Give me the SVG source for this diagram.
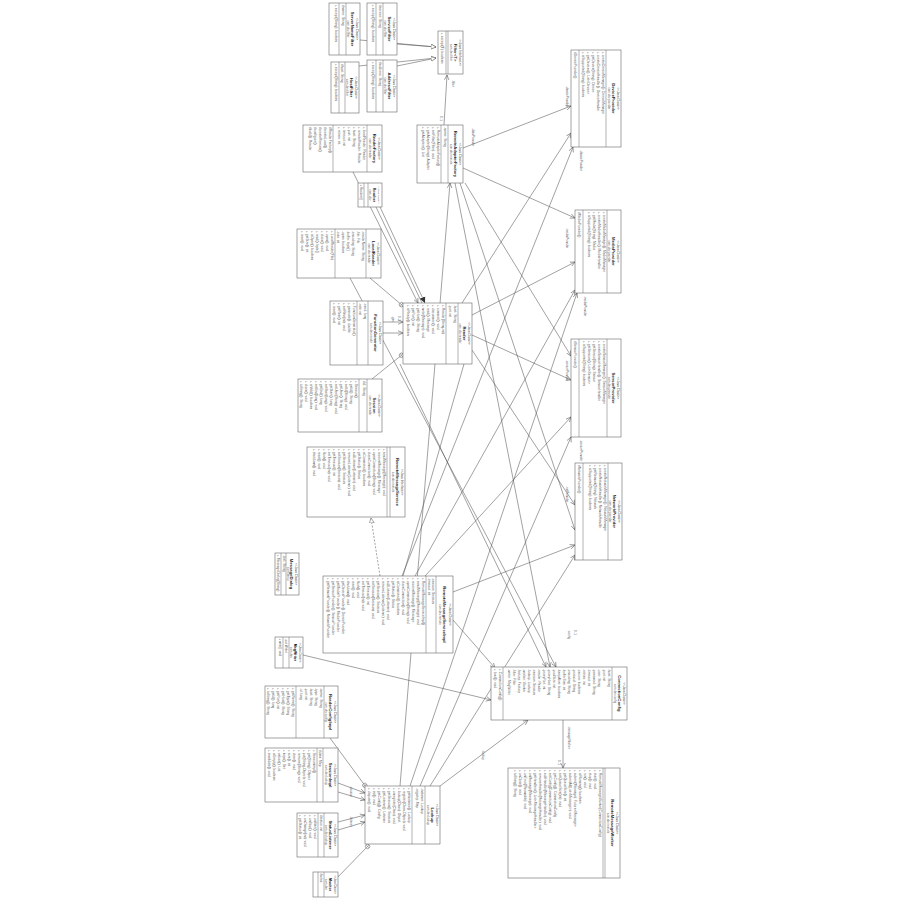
<svg xmlns="http://www.w3.org/2000/svg" width="900" height="900" viewBox="0 0 900 900">
<style>
text{font-family:"Liberation Sans",Arial,sans-serif;fill:#444}
.b{fill:#fff;stroke:#666;stroke-width:.6}
.d{stroke:#666;stroke-width:.5}
.st{font-size:3.1px;text-anchor:middle}
.nm{font-size:4.2px;font-weight:bold;text-anchor:middle;fill:#222}
.pk{font-size:2.9px;text-anchor:middle;fill:#666}
.mb{font-size:3.3px;fill:#555}
.c line,.c polyline{stroke:#555;stroke-width:.55;fill:none}
.lb{font-size:3px;fill:#555}
</style>
<defs>
<marker id="tri" markerWidth="6" markerHeight="6" refX="5" refY="3" orient="auto" markerUnits="userSpaceOnUse"><path d="M0,0.6 L5,3 L0,5.4 Z" fill="#fff" stroke="#555" stroke-width=".5"/></marker>
<marker id="arr" markerWidth="6" markerHeight="6" refX="5" refY="3" orient="auto" markerUnits="userSpaceOnUse"><path d="M0,0.7 L5,3 L0,5.3" fill="none" stroke="#555" stroke-width=".55"/></marker>
<marker id="fil" markerWidth="7" markerHeight="7" refX="6" refY="3.5" orient="auto" markerUnits="userSpaceOnUse"><path d="M0,0.5 L6,3.5 L0,6.5 Z" fill="#333"/></marker>
<marker id="nst" markerWidth="6" markerHeight="6" refX="5" refY="3" orient="auto" markerUnits="userSpaceOnUse"><circle cx="3" cy="3" r="2.2" fill="#fff" stroke="#555" stroke-width=".5"/><path d="M3,1 V5 M1,3 H5" stroke="#555" stroke-width=".4"/></marker>
</defs>

<g class="c" id="connectors">
<line x1="360" y1="40" x2="436" y2="47" marker-end="url(#tri)"/>
<line x1="397" y1="44" x2="436" y2="47" marker-end="url(#tri)"/>
<line x1="359" y1="66" x2="436" y2="58" marker-end="url(#tri)"/>
<line x1="397" y1="66" x2="436" y2="58" marker-end="url(#tri)"/>
<line x1="444" y1="125" x2="447" y2="75" marker-end="url(#arr)"/>
<line x1="463" y1="148" x2="571" y2="106" marker-end="url(#arr)"/>
<line x1="463" y1="168" x2="575" y2="218" marker-end="url(#arr)"/>
<line x1="465" y1="183" x2="571" y2="356" marker-end="url(#arr)"/>
<line x1="460" y1="183" x2="575" y2="530" marker-end="url(#arr)"/>
<line x1="455" y1="183" x2="550" y2="667" marker-end="url(#arr)"/>
<line x1="462" y1="303" x2="571" y2="133" marker-end="url(#arr)"/>
<line x1="472" y1="315" x2="575" y2="262" marker-end="url(#arr)"/>
<line x1="472" y1="335" x2="571" y2="380" marker-end="url(#arr)"/>
<line x1="472" y1="350" x2="575" y2="505" marker-end="url(#arr)"/>
<line x1="402" y1="576" x2="573" y2="147" marker-end="url(#arr)"/>
<line x1="415" y1="576" x2="575" y2="290" marker-end="url(#arr)"/>
<line x1="425" y1="576" x2="571" y2="417" marker-end="url(#arr)"/>
<line x1="453" y1="592" x2="575" y2="545" marker-end="url(#arr)"/>
<line x1="400" y1="786" x2="450" y2="183" marker-end="url(#arr)"/>
<line x1="410" y1="786" x2="577" y2="293" marker-end="url(#arr)"/>
<line x1="420" y1="786" x2="571" y2="437" marker-end="url(#arr)"/>
<line x1="430" y1="786" x2="575" y2="555" marker-end="url(#arr)"/>
<line x1="440" y1="786" x2="528" y2="720" marker-end="url(#arr)"/>
<line x1="400" y1="364" x2="546" y2="667" marker-end="url(#arr)"/>
<line x1="350" y1="278" x2="556" y2="667" marker-end="url(#arr)"/>
<line x1="464" y1="364" x2="403" y2="576"/>
<line x1="453" y1="620" x2="495" y2="668" marker-end="url(#arr)"/>
<line x1="303" y1="655" x2="491" y2="700" marker-end="url(#arr)"/>
<line x1="563" y1="720" x2="563" y2="768" marker-end="url(#arr)"/>
<line x1="380" y1="576" x2="371" y2="518" stroke-dasharray="2,1.5" marker-end="url(#tri)"/>
<line x1="353" y1="172" x2="418" y2="303" marker-end="url(#arr)"/>
<line x1="376" y1="207" x2="422" y2="303" stroke-width="1"/>
<line x1="380" y1="207" x2="425" y2="303" marker-end="url(#fil)"/>
<line x1="370" y1="278" x2="403" y2="306" marker-end="url(#nst)"/>
<line x1="383" y1="322" x2="403" y2="322" marker-end="url(#arr)"/>
<line x1="383" y1="333" x2="403" y2="333" marker-end="url(#arr)"/>
<line x1="372" y1="379" x2="403" y2="354" marker-end="url(#nst)"/>
<line x1="330" y1="738" x2="366" y2="787" marker-end="url(#nst)"/>
<line x1="338" y1="783" x2="365" y2="793" marker-end="url(#arr)"/>
<line x1="338" y1="792" x2="365" y2="800" marker-end="url(#arr)"/>
<line x1="338" y1="822" x2="365" y2="815" marker-end="url(#arr)"/>
<line x1="338" y1="830" x2="365" y2="822" marker-end="url(#arr)"/>
<line x1="335" y1="880" x2="369" y2="845" marker-end="url(#nst)"/>
</g>

<g id="labels">
<text class="lb" transform="translate(452,80) rotate(90)">-filter</text>
<text class="lb" transform="translate(440,116) rotate(90)">0..1</text>
<text class="lb" transform="translate(472,128) rotate(90)">-dataProvider</text>
<text class="lb" transform="translate(566,86) rotate(90)">-deviceProvider</text>
<text class="lb" transform="translate(580,150) rotate(90)">-deviceProvider</text>
<text class="lb" transform="translate(566,228) rotate(90)">-mediaProvider</text>
<text class="lb" transform="translate(584,296) rotate(90)">-mediaProvider</text>
<text class="lb" transform="translate(566,360) rotate(90)">-sensorProvider</text>
<text class="lb" transform="translate(580,440) rotate(90)">-sensorProvider</text>
<text class="lb" transform="translate(566,486) rotate(90)">-netProvider</text>
<text class="lb" transform="translate(580,530) rotate(90)">-netProvider</text>
<text class="lb" transform="translate(568,630) rotate(90)">-config</text>
<text class="lb" transform="translate(574,630) rotate(90)">0..1</text>
<text class="lb" transform="translate(568,726) rotate(90)">-messageWorker</text>
<text class="lb" transform="translate(558,760) rotate(90)">0..1</text>
<text class="lb" transform="translate(392,316) rotate(90)">-gen</text>
<text class="lb" transform="translate(398,316) rotate(90)">0..1</text>
<text class="lb" transform="translate(350,786) rotate(90)">-session</text>
<text class="lb" transform="translate(350,816) rotate(90)">-listener</text>
<text class="lb" transform="translate(482,750) rotate(90)">-lookup</text>
</g>

<g id="ServerNameFilter" transform="translate(360,3) rotate(90)"><rect class="b" width="52" height="31"/><line class="d" x1="0" y1="14" x2="52" y2="14"/><line class="d" x1="0" y1="21" x2="52" y2="21"/><text class="st" x="26" y="4.2">&lt;&lt;Java Class&gt;&gt;</text><text class="nm" x="26" y="9.2">ServerNameFilter</text><text class="pk" x="26" y="12.8">com.dev.filter</text><text class="mb" x="2" y="18.3">#name: String</text><text class="mb" x="2" y="25.5">+ accept(String): boolean</text></g>
<g id="ServiceNameFilter" transform="translate(397,3) rotate(90)"><rect class="b" width="52" height="30"/><line class="d" x1="0" y1="14" x2="52" y2="14"/><line class="d" x1="0" y1="21" x2="52" y2="21"/><text class="st" x="26" y="4.2">&lt;&lt;Java Class&gt;&gt;</text><text class="nm" x="26" y="9.2">ServiceFilter</text><text class="pk" x="26" y="12.8">com.dev.filter</text><text class="mb" x="2" y="18.3">#service: String</text><text class="mb" x="2" y="25.5">+ accept(String): boolean</text></g>
<g id="HostNameFilter" transform="translate(359,62) rotate(90)"><rect class="b" width="51" height="28"/><line class="d" x1="0" y1="14" x2="51" y2="14"/><line class="d" x1="0" y1="20" x2="51" y2="20"/><text class="st" x="25.5" y="4.2">&lt;&lt;Java Class&gt;&gt;</text><text class="nm" x="25.5" y="9.2">HostFilter</text><text class="pk" x="25.5" y="12.8">com.dev.filter</text><text class="mb" x="2" y="18">#host: String</text><text class="mb" x="2" y="24.5">+ accept(String): boolean</text></g>
<g id="AddressFilter" transform="translate(397,60) rotate(90)"><rect class="b" width="52" height="30"/><line class="d" x1="0" y1="14" x2="52" y2="14"/><line class="d" x1="0" y1="21" x2="52" y2="21"/><text class="st" x="26" y="4.2">&lt;&lt;Java Class&gt;&gt;</text><text class="nm" x="26" y="9.2">AddressFilter</text><text class="pk" x="26" y="12.8">com.dev.filter</text><text class="mb" x="2" y="18.3">#address: String</text><text class="mb" x="2" y="25.5">+ accept(String): boolean</text></g>
<g id="Filter" transform="translate(463,31) rotate(90)"><rect class="b" width="43" height="25"/><line class="d" x1="0" y1="15" x2="43" y2="15"/><line class="d" x1="0" y1="17" x2="43" y2="17"/><text class="st" x="21.5" y="4.2">&lt;&lt;Java Interface&gt;&gt;</text><text class="nm" x="21.5" y="9.2">Filter&lt;T&gt;</text><text class="pk" x="21.5" y="12.8">com.dev.filter</text><text class="mb" x="2" y="21.8">+ accept(T): boolean</text></g>
<g id="RemoteAdapterFactory" transform="translate(463,125) rotate(90)"><rect class="b" width="58" height="46"/><line class="d" x1="0" y1="15" x2="58" y2="15"/><line class="d" x1="0" y1="22" x2="58" y2="22"/><text class="st" x="29" y="4.2">&lt;&lt;Java Class&gt;&gt;</text><text class="nm" x="29" y="9.2">RemoteAdapterFactory</text><text class="pk" x="29" y="12.8">com.dev.remote</text><text class="mb" x="2" y="19.5">-name: String</text><text class="mb" x="2" y="26.3">+ RemoteAdapterFactory()</text><text class="mb" x="2" y="31.3">+ setFilter(Filter): void</text><text class="mb" x="2" y="36.3">+ getAdapter(String): Adapter</text><text class="mb" x="2" y="41.3">+ getAdapters(): List</text></g>
<g id="DeviceProvider" transform="translate(621,50) rotate(90)"><rect class="b" width="97" height="50"/><line class="d" x1="0" y1="15" x2="97" y2="15"/><line class="d" x1="0" y1="42" x2="97" y2="42"/><text class="st" x="48.5" y="4.2">&lt;&lt;Java Class&gt;&gt;</text><text class="nm" x="48.5" y="9.2">DeviceProvider</text><text class="pk" x="48.5" y="12.8">com.dev.provider</text><text class="mb" x="2" y="19.3">+ createDeviceManager(): DeviceManager</text><text class="mb" x="2" y="24.3">+ createDeviceHandler(): DeviceHandler</text><text class="mb" x="2" y="29.3">+ getDevice(String): Device</text><text class="mb" x="2" y="34.3">+ getDevices(): List&lt;Device&gt;</text><text class="mb" x="2" y="39.3">+ isSupported(String): boolean</text><text class="mb" x="2" y="47">#DeviceProvider()</text></g>
<g id="ReaderFactory" transform="translate(382,125) rotate(90)"><rect class="b" width="47" height="79"/><line class="d" x1="0" y1="15" x2="47" y2="15"/><line class="d" x1="0" y1="49" x2="47" y2="49"/><text class="st" x="23.5" y="4.2">&lt;&lt;Java Class&gt;&gt;</text><text class="nm" x="23.5" y="9.2">ReaderFactory</text><text class="pk" x="23.5" y="12.8">com.dev.reader</text><text class="mb" x="2" y="19.3">+ localReader: Reader</text><text class="mb" x="2" y="24.3">+ remoteReader: Reader</text><text class="mb" x="2" y="29.3">+ host: String</text><text class="mb" x="2" y="34.3">+ port: int</text><text class="mb" x="2" y="39.3">+ timeout: int</text><text class="mb" x="2" y="44.3">+ retries: int</text><text class="mb" x="2" y="53.3">#ReaderFactory()</text><text class="mb" x="2" y="58.3">#createLocal()</text><text class="mb" x="2" y="63.3">#createRemote()</text><text class="mb" x="2" y="68.3">#configure()</text><text class="mb" x="2" y="73.3">#build(): Reader</text></g>
<g id="Resolver" transform="translate(382,183) rotate(90)"><rect class="b" width="24" height="24"/><line class="d" x1="0" y1="14" x2="24" y2="14"/><line class="d" x1="0" y1="18" x2="24" y2="18"/><text class="st" x="12" y="4.2" style="font-size:2.5px">&lt;&lt;Java Class&gt;&gt;</text><text class="nm" x="12" y="9.2" style="font-size:3.4px">Resolver</text><text class="pk" x="12" y="12.8">com.dev</text><text class="mb" x="1.5" y="22" style="font-size:2.8px">+ Resolver()</text></g>
<g id="LocalReader" transform="translate(381,229) rotate(90)"><rect class="b" width="49" height="84"/><line class="d" x1="0" y1="15" x2="49" y2="15"/><line class="d" x1="0" y1="46" x2="49" y2="46"/><text class="st" x="24.5" y="4.2">&lt;&lt;Java Class&gt;&gt;</text><text class="nm" x="24.5" y="9.2">LocalReader</text><text class="pk" x="24.5" y="12.8">com.dev.reader</text><text class="mb" x="2" y="19.3">-readerName: String</text><text class="mb" x="2" y="24.3">-file: File</text><text class="mb" x="2" y="29.3">-encoding: String</text><text class="mb" x="2" y="34.3">-buffer: byte[]</text><text class="mb" x="2" y="39.3">-open: boolean</text><text class="mb" x="2" y="44.3">-size: int</text><text class="mb" x="2" y="50.3">+ LocalReader(File)</text><text class="mb" x="2" y="55.3">+ open(): void</text><text class="mb" x="2" y="60.3">+ close(): void</text><text class="mb" x="2" y="65.3">+ read(): byte[]</text><text class="mb" x="2" y="70.3">+ isOpen(): boolean</text><text class="mb" x="2" y="75.3">+ getSize(): int</text><text class="mb" x="2" y="80.3">+ reset(): void</text></g>
<g id="FunctionGenerator" transform="translate(383,301) rotate(90)"><rect class="b" width="64" height="53"/><line class="d" x1="0" y1="15" x2="64" y2="15"/><line class="d" x1="0" y1="26" x2="64" y2="26"/><text class="st" x="32" y="4.2">&lt;&lt;Java Class&gt;&gt;</text><text class="nm" x="32" y="9.2">FunctionGenerator</text><text class="pk" x="32" y="12.8">com.dev.reader</text><text class="mb" x="2" y="19.3">-seed: long</text><text class="mb" x="2" y="24.3">-rate: int</text><text class="mb" x="2" y="30.3">+ FunctionGenerator()</text><text class="mb" x="2" y="35.3">+ generate(): double</text><text class="mb" x="2" y="40.3">+ setRate(int): void</text><text class="mb" x="2" y="45.3">+ getRate(): int</text><text class="mb" x="2" y="50.3">+ reset(): void</text></g>
<g id="Reader" transform="translate(472,303) rotate(90)"><rect class="b" width="61" height="69"/><line class="d" x1="0" y1="14" x2="61" y2="14"/><line class="d" x1="0" y1="26" x2="61" y2="26"/><text class="st" x="30.5" y="4.2">&lt;&lt;Java Class&gt;&gt;</text><text class="nm" x="30.5" y="9.2">Reader</text><text class="pk" x="30.5" y="12.6">com.dev.reader</text><text class="mb" x="2" y="18.3">-host: String</text><text class="mb" x="2" y="23.3">-port: int</text><text class="mb" x="2" y="30.3">+ Reader(String,int)</text><text class="mb" x="2" y="35.3">+ connect(): void</text><text class="mb" x="2" y="40.3">+ disconnect(): void</text><text class="mb" x="2" y="45.3">+ read(): Message</text><text class="mb" x="2" y="50.3">+ write(Message): void</text><text class="mb" x="2" y="55.3">+ getHost(): String</text><text class="mb" x="2" y="60.3">+ getPort(): int</text><text class="mb" x="2" y="65.3">+ isReady(): boolean</text></g>
<g id="Session" transform="translate(382,379) rotate(90)"><rect class="b" width="53" height="84"/><line class="d" x1="0" y1="15" x2="53" y2="15"/><line class="d" x1="0" y1="23" x2="53" y2="23"/><text class="st" x="26.5" y="4.2">&lt;&lt;Java Class&gt;&gt;</text><text class="nm" x="26.5" y="9.2">Session</text><text class="pk" x="26.5" y="12.8">com.dev.reader</text><text class="mb" x="2" y="19.5">#id: String</text><text class="mb" x="2" y="27.3">+ Session()</text><text class="mb" x="2" y="32.3">+ getId(): String</text><text class="mb" x="2" y="37.3">+ setId(String): void</text><text class="mb" x="2" y="42.3">+ getUser(): String</text><text class="mb" x="2" y="47.3">+ setUser(String): void</text><text class="mb" x="2" y="52.3">+ getStart(): long</text><text class="mb" x="2" y="57.3">+ setStart(long): void</text><text class="mb" x="2" y="62.3">+ getEnd(): long</text><text class="mb" x="2" y="67.3">+ setEnd(long): void</text><text class="mb" x="2" y="72.3">+ isValid(): boolean</text><text class="mb" x="2" y="77.3">+ close(): void</text><text class="mb" x="2" y="82.3">+ toString(): String</text></g>
<g id="RemoteMessageService" transform="translate(405,447) rotate(90)"><rect class="b" width="70" height="98"/><line class="d" x1="0" y1="15" x2="70" y2="15"/><line class="d" x1="0" y1="18" x2="70" y2="18"/><text class="st" x="35" y="4.2">&lt;&lt;Java Interface&gt;&gt;</text><text class="nm" x="35" y="9.2">RemoteMessageService</text><text class="pk" x="35" y="12.8">com.dev.remote</text><text class="mb" x="2" y="22.3">+ sendMessage(Message): void</text><text class="mb" x="2" y="27.3">+ receiveMessage(): Message</text><text class="mb" x="2" y="32.3">+ openConnection(String): void</text><text class="mb" x="2" y="37.3">+ closeConnection(): void</text><text class="mb" x="2" y="42.3">+ isConnected(): boolean</text><text class="mb" x="2" y="47.3">+ getStatus(): Status</text><text class="mb" x="2" y="52.3">+ addListener(Listener): void</text><text class="mb" x="2" y="57.3">+ removeListener(Listener): void</text><text class="mb" x="2" y="62.3">+ getSession(): Session</text><text class="mb" x="2" y="67.3">+ setSession(Session): void</text><text class="mb" x="2" y="72.3">+ getTimeout(): int</text><text class="mb" x="2" y="77.3">+ setTimeout(int): void</text><text class="mb" x="2" y="82.3">+ flush(): void</text><text class="mb" x="2" y="87.3">+ reset(): void</text><text class="mb" x="2" y="92.3">+ shutdown(): void</text></g>
<g id="RemoteMessageServiceImpl" transform="translate(453,576) rotate(90)"><rect class="b" width="77" height="130"/><line class="d" x1="0" y1="17" x2="77" y2="17"/><line class="d" x1="0" y1="27" x2="77" y2="27"/><text class="st" x="38.5" y="4.5">&lt;&lt;Java Class&gt;&gt;</text><text class="nm" x="38.5" y="10">RemoteMessageServiceImpl</text><text class="pk" x="38.5" y="14">com.dev.remote</text><text class="mb" x="2" y="21">-session: Session</text><text class="mb" x="2" y="25.5">-timeout: int</text><text class="mb" x="2" y="31.3">+ RemoteMessageServiceImpl()</text><text class="mb" x="2" y="36.3">+ sendMessage(Message): void</text><text class="mb" x="2" y="41.3">+ receiveMessage(): Message</text><text class="mb" x="2" y="46.3">+ openConnection(String): void</text><text class="mb" x="2" y="51.3">+ closeConnection(): void</text><text class="mb" x="2" y="56.3">+ isConnected(): boolean</text><text class="mb" x="2" y="61.3">+ getStatus(): Status</text><text class="mb" x="2" y="66.3">+ addListener(Listener): void</text><text class="mb" x="2" y="71.3">+ removeListener(Listener): void</text><text class="mb" x="2" y="76.3">+ getSession(): Session</text><text class="mb" x="2" y="81.3">+ setSession(Session): void</text><text class="mb" x="2" y="86.3">+ getTimeout(): int</text><text class="mb" x="2" y="91.3">+ setTimeout(int): void</text><text class="mb" x="2" y="96.3">+ flush(): void</text><text class="mb" x="2" y="101.3">+ reset(): void</text><text class="mb" x="2" y="106.3">+ shutdown(): void</text><text class="mb" x="2" y="111.3">+ getDeviceProvider(): DeviceProvider</text><text class="mb" x="2" y="116.3">+ getMediaProvider(): MediaProvider</text><text class="mb" x="2" y="121.3">+ getSensorProvider(): SensorProvider</text><text class="mb" x="2" y="126.3">+ getNetworkProvider(): NetworkProvider</text></g>
<g id="MessageDialog" transform="translate(299,553) rotate(90)"><rect class="b" width="42" height="24"/><line class="d" x1="0" y1="13" x2="42" y2="13"/><line class="d" x1="0" y1="18" x2="42" y2="18"/><text class="st" x="21" y="4">&lt;&lt;Java Class&gt;&gt;</text><text class="nm" x="21" y="8.7">MessageDialog</text><text class="pk" x="21" y="12">com.dev.ui</text><text class="mb" x="2" y="16.5">-text: String</text><text class="mb" x="2" y="22">+ MessageDialog(String)</text></g>
<g id="MessageWriter" transform="translate(303,637) rotate(90)"><rect class="b" width="31" height="28"/><line class="d" x1="0" y1="14" x2="31" y2="14"/><line class="d" x1="0" y1="20" x2="31" y2="20"/><text class="st" x="15.5" y="4.2" style="font-size:2.7px">&lt;&lt;Java Class&gt;&gt;</text><text class="nm" x="15.5" y="9.2" style="font-size:3.6px">MsgWriter</text><text class="pk" x="15.5" y="12.8">com.dev</text><text class="mb" x="1.5" y="18" style="font-size:2.9px">-out: Writer</text><text class="mb" x="1.5" y="24.5" style="font-size:2.9px">+ write(): void</text></g>
<g id="ConnectionConfig" transform="translate(627,667) rotate(90)"><rect class="b" width="53" height="136"/><line class="d" x1="0" y1="15" x2="53" y2="15"/><line class="d" x1="0" y1="124" x2="53" y2="124"/><text class="st" x="26.5" y="4.2">&lt;&lt;Java Class&gt;&gt;</text><text class="nm" x="26.5" y="9.2">ConnectionConfig</text><text class="pk" x="26.5" y="12.8">com.dev.config</text><text class="mb" x="2" y="19.3">-host: String</text><text class="mb" x="2" y="24.3">-port: int</text><text class="mb" x="2" y="29.3">-user: String</text><text class="mb" x="2" y="34.3">-password: String</text><text class="mb" x="2" y="39.3">-timeout: int</text><text class="mb" x="2" y="44.3">-retries: int</text><text class="mb" x="2" y="49.3">-secure: boolean</text><text class="mb" x="2" y="54.3">-protocol: String</text><text class="mb" x="2" y="59.3">-encoding: String</text><text class="mb" x="2" y="64.3">-bufferSize: int</text><text class="mb" x="2" y="69.3">-keepAlive: boolean</text><text class="mb" x="2" y="74.3">-poolSize: int</text><text class="mb" x="2" y="79.3">-proxyHost: String</text><text class="mb" x="2" y="84.3">-proxyPort: int</text><text class="mb" x="2" y="89.3">-reader: Reader</text><text class="mb" x="2" y="94.3">-session: Session</text><text class="mb" x="2" y="99.3">-lookup: Lookup</text><text class="mb" x="2" y="104.3">-worker: Worker</text><text class="mb" x="2" y="109.3">-factory: Factory</text><text class="mb" x="2" y="114.3">-filter: Filter</text><text class="mb" x="2" y="119.3">-writer: MsgWriter</text><text class="mb" x="2" y="128.5">+ ConnectionConfig()</text><text class="mb" x="2" y="133.3">+ load(): void</text></g>
<g id="RemoteMessageWorker" transform="translate(620,768) rotate(90)"><rect class="b" width="110" height="112"/><line class="d" x1="0" y1="15" x2="110" y2="15"/><line class="d" x1="0" y1="17" x2="110" y2="17"/><text class="st" x="55" y="4.2">&lt;&lt;Java Class&gt;&gt;</text><text class="nm" x="55" y="9.2">RemoteMessageWorker</text><text class="pk" x="55" y="12.8">com.dev.remote</text><text class="mb" x="2" y="21.3">+ RemoteMessageWorker(ConnectionConfig)</text><text class="mb" x="2" y="26.3">+ start(): void</text><text class="mb" x="2" y="31.3">+ stop(): void</text><text class="mb" x="2" y="36.3">+ run(): void</text><text class="mb" x="2" y="41.3">+ isRunning(): boolean</text><text class="mb" x="2" y="46.3">+ submit(Message): Future&lt;Message&gt;</text><text class="mb" x="2" y="51.3">+ submitAll(List&lt;Message&gt;): void</text><text class="mb" x="2" y="56.3">+ getQueueSize(): int</text><text class="mb" x="2" y="61.3">+ setQueueSize(int): void</text><text class="mb" x="2" y="66.3">+ getConfig(): ConnectionConfig</text><text class="mb" x="2" y="71.3">+ setConfig(ConnectionConfig): void</text><text class="mb" x="2" y="76.3">+ addHandler(MessageHandler): void</text><text class="mb" x="2" y="81.3">+ removeHandler(MessageHandler): void</text><text class="mb" x="2" y="86.3">+ getHandlers(): List&lt;MessageHandler&gt;</text><text class="mb" x="2" y="91.3">+ onMessage(Message): void</text><text class="mb" x="2" y="96.3">+ onError(Throwable): void</text><text class="mb" x="2" y="101.3">+ onClose(): void</text><text class="mb" x="2" y="106.3">+ toString(): String</text></g>
<g id="ReaderConfigImpl" transform="translate(338,686) rotate(90)"><rect class="b" width="52" height="73"/><line class="d" x1="0" y1="14" x2="52" y2="14"/><line class="d" x1="0" y1="42" x2="52" y2="42"/><text class="st" x="26" y="4.2">&lt;&lt;Java Class&gt;&gt;</text><text class="nm" x="26" y="9.2">ReaderConfigImpl</text><text class="pk" x="26" y="12.8">com.dev.config</text><text class="mb" x="2" y="18.3">-name: String</text><text class="mb" x="2" y="23.3">-type: String</text><text class="mb" x="2" y="28.3">-host: String</text><text class="mb" x="2" y="33.3">-port: int</text><text class="mb" x="2" y="38.3">-id: long</text><text class="mb" x="2" y="46.3">+ getName(): String</text><text class="mb" x="2" y="51.3">+ getType(): String</text><text class="mb" x="2" y="56.3">+ getHost(): String</text><text class="mb" x="2" y="61.3">+ getPort(): int</text><text class="mb" x="2" y="66.3">+ getId(): long</text><text class="mb" x="2" y="71.3">+ toString(): String</text></g>
<g id="SessionImpl" transform="translate(338,748) rotate(90)"><rect class="b" width="54" height="73"/><line class="d" x1="0" y1="15" x2="54" y2="15"/><line class="d" x1="0" y1="21" x2="54" y2="21"/><text class="st" x="27" y="4.2">&lt;&lt;Java Class&gt;&gt;</text><text class="nm" x="27" y="9.2">SessionImpl</text><text class="pk" x="27" y="12.8">com.dev.lookup</text><text class="mb" x="2" y="19">#data: Map</text><text class="mb" x="2" y="25.3">+ SessionImpl()</text><text class="mb" x="2" y="30.3">+ get(String): Object</text><text class="mb" x="2" y="35.3">+ put(String,Object): void</text><text class="mb" x="2" y="40.3">+ remove(String): void</text><text class="mb" x="2" y="45.3">+ clear(): void</text><text class="mb" x="2" y="50.3">+ size(): int</text><text class="mb" x="2" y="55.3">+ keys(): Set</text><text class="mb" x="2" y="60.3">+ values(): List</text><text class="mb" x="2" y="65.3">+ isEmpty(): boolean</text><text class="mb" x="2" y="70.3">+ invalidate(): void</text></g>
<g id="StatusListener" transform="translate(338,813) rotate(90)"><rect class="b" width="44" height="41"/><line class="d" x1="0" y1="14" x2="44" y2="14"/><line class="d" x1="0" y1="20" x2="44" y2="20"/><text class="st" x="22" y="4.2">&lt;&lt;Java Class&gt;&gt;</text><text class="nm" x="22" y="9.2">StatusListener</text><text class="pk" x="22" y="12.8">com.dev.lookup</text><text class="mb" x="2" y="18">#status: int</text><text class="mb" x="2" y="24.3">+ onStart(): void</text><text class="mb" x="2" y="29.3">+ onStop(): void</text><text class="mb" x="2" y="34.3">+ onChange(int): void</text><text class="mb" x="2" y="39.3">+ getStatus(): int</text></g>
<g id="Monitor" transform="translate(338,872) rotate(90)"><rect class="b" width="25" height="25"/><line class="d" x1="0" y1="14" x2="25" y2="14"/><line class="d" x1="0" y1="20" x2="25" y2="20"/><text class="st" x="12.5" y="4.2" style="font-size:2.6px">&lt;&lt;Java Class&gt;&gt;</text><text class="nm" x="12.5" y="9.2" style="font-size:3.6px">Monitor</text><text class="pk" x="12.5" y="12.8">com.dev</text><text class="mb" x="1.5" y="18" style="font-size:2.8px">#active</text></g>
<g id="Lookup" transform="translate(440,786) rotate(90)"><rect class="b" width="58" height="75"/><line class="d" x1="0" y1="15" x2="58" y2="15"/><line class="d" x1="0" y1="28" x2="58" y2="28"/><text class="st" x="29" y="4.2">&lt;&lt;Java Class&gt;&gt;</text><text class="nm" x="29" y="9.2">Lookup</text><text class="pk" x="29" y="12.8">com.dev.lookup</text><text class="mb" x="2" y="19.3">-instance: Lookup</text><text class="mb" x="2" y="24.3">-registry: Map</text><text class="mb" x="2" y="32.3">+ getInstance(): Lookup</text><text class="mb" x="2" y="37.3">+ register(Class,Object): void</text><text class="mb" x="2" y="42.3">+ lookup(Class): Object</text><text class="mb" x="2" y="47.3">+ unregister(Class): void</text><text class="mb" x="2" y="52.3">+ getSession(): Session</text><text class="mb" x="2" y="57.3">+ getListener(): Listener</text><text class="mb" x="2" y="62.3">+ getConfig(): Config</text><text class="mb" x="2" y="67.3">+ init(): void</text><text class="mb" x="2" y="72.3">+ dispose(): void</text></g>
<g id="MediaProvider" transform="translate(621,210) rotate(90)"><rect class="b" width="83" height="46"/><line class="d" x1="0" y1="14" x2="83" y2="14"/><line class="d" x1="0" y1="38" x2="83" y2="38"/><text class="st" x="41.5" y="4.2">&lt;&lt;Java Class&gt;&gt;</text><text class="nm" x="41.5" y="9.2">MediaProvider</text><text class="pk" x="41.5" y="12.6">com.dev.provider</text><text class="mb" x="2" y="18.3">+ createMediaManager(): MediaManager</text><text class="mb" x="2" y="23.3">+ createMediaHandler(): MediaHandler</text><text class="mb" x="2" y="28.3">+ getMedia(String): Media</text><text class="mb" x="2" y="33.3">+ isSupported(String): boolean</text><text class="mb" x="2" y="43">#MediaProvider()</text></g>
<g id="SensorProvider" transform="translate(621,339) rotate(90)"><rect class="b" width="98" height="50"/><line class="d" x1="0" y1="14" x2="98" y2="14"/><line class="d" x1="0" y1="42" x2="98" y2="42"/><text class="st" x="49" y="4.2">&lt;&lt;Java Class&gt;&gt;</text><text class="nm" x="49" y="9.2">SensorProvider</text><text class="pk" x="49" y="12.6">com.dev.provider</text><text class="mb" x="2" y="18.3">+ createSensorManager(): SensorManager</text><text class="mb" x="2" y="23.3">+ createSensorHandler(): SensorHandler</text><text class="mb" x="2" y="28.3">+ getSensor(String): Sensor</text><text class="mb" x="2" y="33.3">+ getSensors(): List&lt;Sensor&gt;</text><text class="mb" x="2" y="38.3">+ isSupported(String): boolean</text><text class="mb" x="2" y="47">#SensorProvider()</text></g>
<g id="NetworkProvider" transform="translate(622,463) rotate(90)"><rect class="b" width="97" height="47"/><line class="d" x1="0" y1="14" x2="97" y2="14"/><line class="d" x1="0" y1="39" x2="97" y2="39"/><text class="st" x="48.5" y="4.2">&lt;&lt;Java Class&gt;&gt;</text><text class="nm" x="48.5" y="9.2">NetworkProvider</text><text class="pk" x="48.5" y="12.6">com.dev.provider</text><text class="mb" x="2" y="18.3">+ createNetworkManager(): NetworkManager</text><text class="mb" x="2" y="23.3">+ createNetworkHandler(): NetworkHandler</text><text class="mb" x="2" y="28.3">+ getNetwork(String): Network</text><text class="mb" x="2" y="33.3">+ isSupported(String): boolean</text><text class="mb" x="2" y="44">#NetworkProvider()</text></g>
</svg>
